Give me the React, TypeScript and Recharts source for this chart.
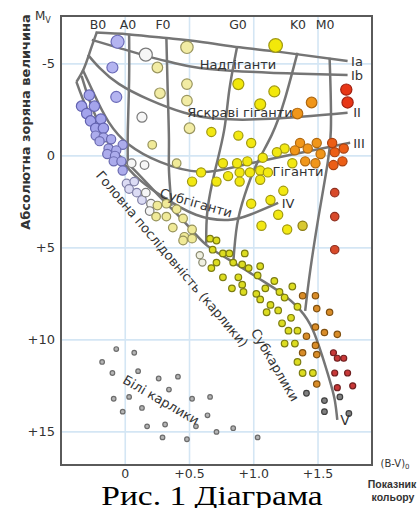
import React from 'react';
import { ScatterChart, Scatter, XAxis, YAxis, CartesianGrid, ReferenceArea } from 'recharts';

// axis ticks
const xTicks = [0, 0.5, 1, 1.5];
const yTicks = [-5, 0, 5, 10, 15];
const spectralLabels = ['B0', 'A0', 'F0', 'G0', 'K0', 'M0'];

// luminosity class curves, [B-V, Mv]
const lineIa = [[-0.23, -6.7], [0.03, -6.6], [0.32, -6.4], [0.58, -6.2], [0.89, -5.9], [1.2, -5.65], [1.73, -5.16]];
const lineIb = [[-0.26, -6.3], [-0.05, -5.87], [0.19, -5.38], [0.38, -5.05], [0.58, -4.78], [0.97, -4.57], [1.36, -4.46], [1.73, -4.4]];
const lineII = [[-0.29, -5.49], [-0.2, -4.78], [-0.05, -3.91], [0.19, -3.04], [0.46, -2.34], [0.73, -2.01], [1.13, -2.01], [1.73, -2.34]];
const lineIII = [[-0.33, -4.67], [-0.24, -3.32], [-0.13, -1.85], [0.03, -0.6], [0.27, 0.33], [0.58, 0.87], [0.89, 0.54], [1.28, -0.05], [1.75, -0.71]];
const lineIV = [[-0.34, -4.35], [-0.28, -3.04], [-0.2, -1.68], [-0.09, -0.33], [0.07, 1.03], [0.27, 2.12], [0.55, 3.2], [0.8, 3.48], [0.97, 3.2], [1.19, 2.55]];
const lineV = [[-0.38, -4.02], [-0.3, -2.61], [-0.2, -1.41], [-0.09, -0.33], [0.07, 0.76], [0.27, 2.23], [0.46, 3.59], [0.63, 4.84], [0.81, 5.65], [1.02, 6.58], [1.2, 7.39], [1.36, 8.37], [1.46, 9.46], [1.53, 10.82], [1.59, 12.17], [1.63, 13.26], [1.65, 14.35]];
// spectral class boundaries
const lineB0 = [[-0.22, -6.74], [-0.27, -5.76], [-0.32, -4.78], [-0.38, -4.02]];
const lineA0 = [[0.03, -6.63], [0.03, -4.13], [0.02, -1.41], [0.02, 0.38]];
const lineF0 = [[0.32, -6.41], [0.33, -3.59], [0.34, -0.87], [0.34, 0.76], [0.36, 2.72]];
const lineG0 = [[0.87, -5.92], [0.81, -3.59], [0.77, -1.41], [0.7, 0.76], [0.64, 2.93], [0.63, 4.78]];
const lineK0 = [[1.34, -5.6], [1.24, -3.04], [1.14, -1.14], [1.02, 0.49], [0.93, 2.12], [0.87, 3.75], [0.84, 5.82]];
const lineM0 = [[1.59, -5.33], [1.6, -1.41], [1.56, 1.03], [1.5, 3.48], [1.44, 6.2], [1.4, 8.42]];

// stars
const blueSuper = [[-0.06, -6.2]];
const blueGiants = [[-0.1, -4.8], [-0.07, -3.2]];
const blueUpper = [[-0.28, -3.3], [-0.34, -2.7], [-0.24, -2.7], [-0.3, -2.3], [-0.27, -1.9], [-0.19, -2.0], [-0.23, -1.5], [-0.17, -1.5]];
const blueLower = [[-0.23, -1.1], [-0.17, -1.0], [-0.11, -0.9], [-0.2, -0.8], [-0.02, -0.6], [-0.13, -0.4], [-0.07, -0.3], [-0.14, -0.1], [-0.08, 0], [-0.09, 0.3], [-0.03, 0.3], [-0.02, 0.8]];
const lavender = [[0.01, 1.5], [0.07, 1.4], [0.03, 1.8], [0.09, 2.0], [0.13, 2.4]];
const whiteSuper = [[0.16, -5.5]];
const whiteGiants = [[0.13, -2.1]];
const whiteDwarfMS = [[0.05, 0.4], [0.15, 0.5], [0.16, 2.0], [0.2, 2.6], [0.19, 3.0]];
const paleSuper = [[0.48, -5.9]];
const paleGiants = [[0.25, -4.8], [0.27, -3.4], [0.48, -3.9], [0.48, -3.0], [0.5, -1.5]];
const paleMS = [[0.21, -0.6], [0.4, 0.4], [0.25, 2.7], [0.32, 2.6], [0.24, 3.3], [0.32, 3.3], [0.4, 2.9], [0.37, 3.9], [0.45, 3.4], [0.46, 4.4], [0.52, 4.0], [0.52, 4.5], [0.45, 4.6]];
const paleSmall = [[0.58, 5.4], [0.6, 5.8]];
const yellowSuper = [[1.17, -6.0]];
const yellowBright = [[0.88, -3.9], [1.16, -3.5], [1.05, -2.8]];
const yellowGiants = [[0.67, -1.3], [0.88, -1.1], [0.98, -0.7], [1.24, -0.4], [1.18, -0.2], [1.07, 0.1], [0.95, 0.3], [0.87, 0.4], [0.76, 0.4], [0.59, 0.9], [0.71, 1.4], [0.8, 1.1], [0.89, 0.9], [0.97, 0.9], [1.05, 0.8], [1.11, 0.9], [0.89, 1.4], [1.05, 1.3], [1.3, 0.4], [0.52, 1.4], [1.23, 1.9], [1.13, 2.4], [0.98, 2.6], [1.19, 3.2], [1.06, 3.8], [1.26, 4.0]];
const oliveGiants = [[1.38, 3.8]];
const orangeBright = [[1.45, -2.9], [1.34, -2.3]];
const orangeGiants = [[1.36, -0.7], [1.42, -0.4], [1.49, -0.7], [1.52, -0.1], [1.48, 0.4], [1.32, -0.3], [1.4, 0.3]];
const redOrangeGiants = [[1.61, -0.7], [1.63, -0.2], [1.62, 0.5], [1.7, -0.4], [1.69, 0.3]];
const redBright = [[1.72, -3.6], [1.73, -2.9]];
const redMid = [[1.63, 2.0], [1.63, 3.3], [1.63, 5.1]];
const dwarfYellow = [[0.66, 4.5], [0.71, 4.6], [0.68, 5.1], [0.76, 5.3], [0.81, 5.3], [0.93, 5.3], [0.84, 5.8], [0.91, 5.9], [0.96, 6.1], [1.05, 6.0], [0.76, 6.6], [0.88, 6.6], [1.03, 6.5], [1.16, 6.8], [0.83, 7.2], [0.91, 7.0], [0.92, 7.4], [1.02, 7.5], [1.2, 7.4], [1.24, 7.7], [1.05, 7.8], [1.13, 8.1], [1.34, 8.2], [1.1, 8.5], [1.19, 8.4], [1.29, 8.8], [0.67, 6.1], [0.71, 5.8], [1.3, 7.1], [1.09, 7.2], [1.22, 9.1], [1.27, 9.5], [1.34, 9.5], [1.24, 10.2], [1.32, 10.2], [1.34, 11.2], [1.38, 11.8], [1.46, 11.8]];
const dwarfOrange = [[1.38, 7.6], [1.48, 7.6], [1.49, 8.3], [1.59, 8.5], [1.48, 9.3], [1.55, 9.6], [1.41, 9.8], [1.48, 10.3], [1.49, 10.8], [1.65, 9.7], [1.49, 12.4], [1.38, 10.7]];
const dwarfRed = [[1.62, 10.7], [1.65, 11.0], [1.7, 11.0], [1.63, 11.8], [1.73, 11.8], [1.77, 12.5], [1.65, 12.6]];
const dwarfGray = [[1.41, 12.9], [1.67, 13.1], [1.55, 13.3], [1.55, 13.9], [1.74, 14.0]];
const whiteDwarfs = [[-0.07, 10.5], [0.07, 10.7], [-0.18, 11.2], [-0.1, 11.8], [0.1, 11.7], [0.26, 12.1], [0.41, 12.0], [0.34, 12.7], [-0.09, 13.2], [0.03, 13.1], [0.13, 13.7], [-0.02, 13.9], [0.52, 13.2], [0.66, 13.1], [0.64, 14.1], [0.17, 14.7], [0.31, 14.6], [0.55, 14.7], [0.71, 15.0], [0.84, 14.8], [0.29, 15.3], [0.48, 15.4], [1.03, 15.3]];

const toPts = (arr: number[][]) => arr.map(([x, y]) => ({ x, y }));

const curves = [lineIa, lineIb, lineII, lineIII, lineIV, lineV, lineB0, lineA0, lineF0, lineG0, lineK0, lineM0];

const groups = [
  { data: blueSuper, r: 6.5, fill: '#b4b4f0', stroke: '#6a6ab8' },
  { data: blueGiants, r: 5.5, fill: '#b4b4f0', stroke: '#6a6ab8' },
  { data: blueUpper, r: 5.2, fill: '#a4a4ec', stroke: '#6262b0' },
  { data: blueLower, r: 4.6, fill: '#acacec', stroke: '#6a6ab0' },
  { data: lavender, r: 4.3, fill: '#dcdcf4', stroke: '#8282a8' },
  { data: whiteSuper, r: 6.5, fill: '#f6f6f6', stroke: '#7a7a7a' },
  { data: whiteGiants, r: 5, fill: '#f6f6f6', stroke: '#7a7a7a' },
  { data: whiteDwarfMS, r: 4.3, fill: '#f6f6f6', stroke: '#7a7a7a' },
  { data: paleSuper, r: 6.2, fill: '#f2eca4', stroke: '#9a9660' },
  { data: paleGiants, r: 5.3, fill: '#f2eca4', stroke: '#9a9660' },
  { data: paleMS, r: 4.3, fill: '#f0ea98', stroke: '#96925a' },
  { data: paleSmall, r: 3.6, fill: '#f0f0e0', stroke: '#8a8a70' },
  { data: yellowSuper, r: 6.8, fill: '#f2e80a', stroke: '#a09810' },
  { data: yellowBright, r: 5.5, fill: '#f2e80a', stroke: '#a09810' },
  { data: yellowGiants, r: 4.6, fill: '#f2e812', stroke: '#a09810' },
  { data: oliveGiants, r: 4.6, fill: '#d8c830', stroke: '#8a7a10' },
  { data: orangeBright, r: 5.3, fill: '#f0961a', stroke: '#b06810' },
  { data: orangeGiants, r: 4.6, fill: '#f0961a', stroke: '#b06810' },
  { data: redOrangeGiants, r: 4.6, fill: '#ec5e16', stroke: '#a84010' },
  { data: redBright, r: 5.6, fill: '#e83616', stroke: '#a02010' },
  { data: redMid, r: 4.2, fill: '#d84a2a', stroke: '#903020' },
  { data: dwarfYellow, r: 3.3, fill: '#dcdc20', stroke: '#7c7c10' },
  { data: dwarfOrange, r: 3.2, fill: '#d88c28', stroke: '#805010' },
  { data: dwarfRed, r: 3, fill: '#c83838', stroke: '#702020' },
  { data: dwarfGray, r: 2.8, fill: '#808080', stroke: '#404040' },
  { data: whiteDwarfs, r: 2.3, fill: '#b4b4b4', stroke: '#6c6c6c' },
];

const FONT = '"DejaVu Sans", sans-serif';

const Txt = ({ x, y, children, size = 13, rot = 0, bold = false, family = FONT, color = '#333' }: any) => (
  <div
    style={{
      position: 'absolute', left: x, top: y,
      transform: `translate(-50%, -50%) rotate(${rot}deg)`,
      fontSize: size, fontFamily: family, fontWeight: bold ? 'bold' : 'normal',
      color, whiteSpace: 'nowrap', lineHeight: 1,
    }}
  >
    {children}
  </div>
);

const fmtX = (v: number) => (v === 0 ? '0' : `+${v.toFixed(1)}`);
const fmtY = (v: number) => (v > 0 ? `+${v}` : `${v}`);

const spectralX = [98, 128, 163, 238, 298, 325];

export default function App() {
  return (
    <div style={{ position: 'absolute', left: 0, top: 0, width: 418, height: 508, background: '#fff', overflow: 'hidden' }}>
      <ScatterChart width={418} height={508} margin={{ top: 16, right: 46, bottom: 0, left: 0 }}>
        <CartesianGrid stroke="#d4e6f4" strokeWidth={1.6} />
        <XAxis
          type="number" dataKey="x" domain={[-0.5, 1.92]} ticks={xTicks} allowDataOverflow
          height={43} tickLine={false} axisLine={false} tickSize={2} tickFormatter={fmtX}
          tick={{ fill: '#333', fontSize: 12.5, fontFamily: FONT }}
        />
        <YAxis
          type="number" dataKey="y" domain={[-7.6, 16.8]} reversed ticks={yTicks} allowDataOverflow
          width={61} tickLine={false} axisLine={false} tickSize={4} tickFormatter={fmtY}
          tick={{ fill: '#333', fontSize: 13, fontFamily: FONT }}
        />
        <ReferenceArea x1={-0.5} x2={1.92} y1={-7.6} y2={16.8} fill="none" stroke="#5a5a5a" strokeWidth={2} ifOverflow="visible" />
        {curves.map((c, i) => (
          <Scatter
            key={`c${i}`}
            data={toPts(c)}
            line={{ stroke: '#757575', strokeWidth: 2.5 }}
            lineJointType="natural"
            shape={() => <g />}
            isAnimationActive={false}
          />
        ))}
        {groups.map((g, i) => (
          <Scatter
            key={`s${i}`}
            data={toPts(g.data)}
            isAnimationActive={false}
            shape={(p: any) => <circle cx={p.cx} cy={p.cy} r={g.r} fill={g.fill} stroke={g.stroke} strokeWidth={1.2} />}
          />
        ))}
      </ScatterChart>

      {spectralLabels.map((s, i) => (
        <Txt key={s} x={spectralX[i]} y={25} size={12.5}>{s}</Txt>
      ))}
      <Txt x={25} y={122} rot={-90} bold>Абсолютна зоряна величина</Txt>
      <div style={{ position: 'absolute', left: 35, top: 10, fontFamily: FONT, fontSize: 12, color: '#333', lineHeight: 1 }}>
        M<span style={{ fontSize: 8, position: 'relative', top: 3 }}>V</span>
      </div>

      <Txt x={238} y={64}>Надгіганти</Txt>
      <Txt x={240} y={112}>Яскраві гіганти</Txt>
      <Txt x={298} y={171}>Гіганти</Txt>
      <Txt x={196} y={203} rot={16}>Субгіганти</Txt>
      <Txt x={172} y={259} rot={49.6}>Головна послідовність (карлики)</Txt>
      <Txt x={275} y={365} rot={59.6}>Субкарлики</Txt>
      <Txt x={161} y={400} rot={30}>Білі карлики</Txt>

      <Txt x={357} y={61}>Ia</Txt>
      <Txt x={357} y={75}>Ib</Txt>
      <Txt x={357} y={112}>II</Txt>
      <Txt x={359} y={143}>III</Txt>
      <Txt x={288} y={203}>IV</Txt>
      <Txt x={345} y={420} size={14}>V</Txt>

      <Txt x={395} y={464} size={10}>(B-V)<span style={{ fontSize: 7, position: 'relative', top: 2 }}>0</span></Txt>
      <Txt x={392} y={484} size={10.5} bold family='"Liberation Sans", Arial, sans-serif'>Показник</Txt>
      <Txt x={393} y={497} size={10.5} bold family='"Liberation Sans", Arial, sans-serif'>кольору</Txt>

      <div style={{ position: 'absolute', left: 212, top: 483, transform: 'translateX(-50%) scaleX(1.24)', fontFamily: '"Liberation Serif", serif', fontSize: 27, lineHeight: 1, color: '#000', whiteSpace: 'nowrap' }}>
        Рис. 1 Діаграма
      </div>
    </div>
  );
}
